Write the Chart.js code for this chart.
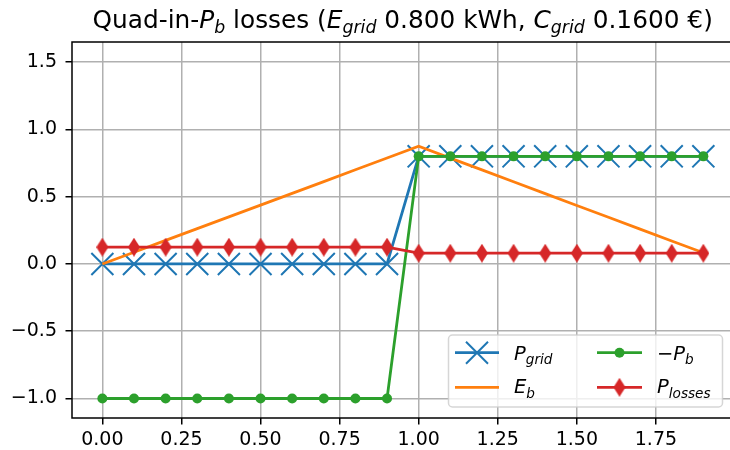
<!DOCTYPE html>
<html>
<head>
<meta charset="utf-8">
<script src="https://cdn.jsdelivr.net/npm/chart.js@4.4.0/dist/chart.umd.min.js"></script>
<style>
  html, body { margin: 0; padding: 0; background: #fff; overflow: hidden; }
  #wrap { width: 730px; height: 450px; overflow: hidden; }
</style>
</head>
<body>
<div id="wrap"><canvas id="chart" width="751" height="450"></canvas></div>
<script>
// time steps (h)
const t = [0.0, 0.1, 0.2, 0.3, 0.4, 0.5, 0.6, 0.7, 0.8, 0.9,
           1.0, 1.1, 1.2, 1.3, 1.4, 1.5, 1.6, 1.7, 1.8, 1.9];
const pGrid = [0, 0, 0, 0, 0, 0, 0, 0, 0, 0,
               0.8, 0.8, 0.8, 0.8, 0.8, 0.8, 0.8, 0.8, 0.8, 0.8];
const eB = [0, 0.0875, 0.175, 0.2625, 0.35, 0.4375, 0.525, 0.6125, 0.7, 0.7875,
            0.875, 0.787, 0.699, 0.611, 0.523, 0.435, 0.347, 0.259, 0.171, 0.083];
const negPb = [-1, -1, -1, -1, -1, -1, -1, -1, -1, -1,
               0.8, 0.8, 0.8, 0.8, 0.8, 0.8, 0.8, 0.8, 0.8, 0.8];
const pLosses = [0.125, 0.125, 0.125, 0.125, 0.125, 0.125, 0.125, 0.125, 0.125, 0.125,
                 0.08, 0.08, 0.08, 0.08, 0.08, 0.08, 0.08, 0.08, 0.08, 0.08];

const xTicks = [0, 0.25, 0.5, 0.75, 1.0, 1.25, 1.5, 1.75];
const xTickLabels = ["0.00", "0.25", "0.50", "0.75", "1.00", "1.25", "1.50", "1.75"];
const yTicks = [-1.0, -0.5, 0.0, 0.5, 1.0, 1.5];
const yTickLabels = ["\u22121.0", "\u22120.5", "0.0", "0.5", "1.0", "1.5"];

const BLUE = "#1f77b4", ORANGE = "#ff7f0e", GREEN = "#2ca02c", RED = "#d62728";
const FONT = '"DejaVu Sans", sans-serif';

const pts = (ys) => t.map((x, i) => ({ x: x, y: ys[i] }));

// thin diamond marker like matplotlib 'd'
function diamond(w, h, color) {
  const c = document.createElement("canvas");
  c.width = w; c.height = h;
  const g = c.getContext("2d");
  g.fillStyle = color;
  g.beginPath();
  g.moveTo(w / 2, 0); g.lineTo(w, h / 2); g.lineTo(w / 2, h); g.lineTo(0, h / 2);
  g.closePath();
  g.fill();
  return c;
}
const diamondImg = diamond(12, 19, RED);

// text with italic / subscript pieces (mathtext-ish)
function richWidth(ctx, segs, size) {
  let w = 0;
  segs.forEach(s => {
    ctx.font = (s.it ? "italic " : "") + (s.sub ? size * 0.7 : size) + "px " + FONT;
    w += ctx.measureText(s.t).width;
  });
  return w;
}
function drawRich(ctx, x, y, segs, size) {
  segs.forEach(s => {
    ctx.font = (s.it ? "italic " : "") + (s.sub ? size * 0.7 : size) + "px " + FONT;
    ctx.fillText(s.t, x, y + (s.sub ? size * 0.22 : 0));
    x += ctx.measureText(s.t).width;
  });
}

const titleSegs = [
  { t: "Quad-in-" }, { t: "P", it: 1 }, { t: "b", it: 1, sub: 1 },
  { t: " losses (" }, { t: "E", it: 1 }, { t: "grid", it: 1, sub: 1 },
  { t: " 0.800 kWh, " }, { t: "C", it: 1 }, { t: "grid", it: 1, sub: 1 },
  { t: " 0.1600 \u20ac)" }
];

const decor = {
  id: "decor",
  afterDatasetsDraw(chart) {
    const ctx = chart.ctx, a = chart.chartArea;
    ctx.save();
    // spines (the right one falls outside the 730px view)
    ctx.strokeStyle = "#000";
    ctx.lineWidth = 1.5;
    ctx.strokeRect(a.left, a.top, a.right - a.left, a.bottom - a.top);

    // title, centred over the axes box
    ctx.fillStyle = "#000";
    ctx.textBaseline = "alphabetic";
    const ts = 24.8;
    const tw = richWidth(ctx, titleSegs, ts);
    drawRich(ctx, (a.left + a.right) / 2 - tw / 2, 28, titleSegs, ts);

    // legend
    ctx.fillStyle = "rgba(255,255,255,0.8)";
    ctx.strokeStyle = "rgba(204,204,204,0.8)";
    ctx.lineWidth = 1.5;
    ctx.beginPath();
    ctx.roundRect(448.5, 335, 274, 72, 4);
    ctx.fill();
    ctx.stroke();

    const rows = [352.7, 387.3];
    const cols = [{ x0: 455, x1: 499, tx: 514 }, { x0: 597, x1: 642, tx: 657 }];
    const items = [
      { c: 0, r: 0, color: BLUE, mark: "x", segs: [{ t: "P", it: 1 }, { t: "grid", it: 1, sub: 1 }] },
      { c: 0, r: 1, color: ORANGE, mark: null, segs: [{ t: "E", it: 1 }, { t: "b", it: 1, sub: 1 }] },
      { c: 1, r: 0, color: GREEN, mark: "o", segs: [{ t: "\u2212P", it: 1 }, { t: "b", it: 1, sub: 1 }] },
      { c: 1, r: 1, color: RED, mark: "d", segs: [{ t: "P", it: 1 }, { t: "losses", it: 1, sub: 1 }] }
    ];
    items.forEach(it => {
      const col = cols[it.c], y = rows[it.r], cx = (col.x0 + col.x1) / 2;
      ctx.strokeStyle = it.color;
      ctx.lineWidth = 2.8;
      ctx.beginPath();
      ctx.moveTo(col.x0, y); ctx.lineTo(col.x1, y);
      ctx.stroke();
      if (it.mark === "x") {
        ctx.lineWidth = 2;
        const d = 11;
        ctx.beginPath();
        ctx.moveTo(cx - d, y - d); ctx.lineTo(cx + d, y + d);
        ctx.moveTo(cx - d, y + d); ctx.lineTo(cx + d, y - d);
        ctx.stroke();
      } else if (it.mark === "o") {
        ctx.fillStyle = it.color;
        ctx.beginPath();
        ctx.arc(cx, y, 5, 0, Math.PI * 2);
        ctx.fill();
      } else if (it.mark === "d") {
        ctx.drawImage(diamondImg, cx - 6, y - 9.5);
      }
      ctx.fillStyle = "#000";
      drawRich(ctx, col.tx, y + (it.r === 0 ? 7.5 : 6), it.segs, 19.5);
    });
    ctx.restore();
  }
};

new Chart(document.getElementById("chart"), {
  type: "line",
  data: {
    datasets: [
      {
        label: "P_grid", data: pts(pGrid), order: 3,
        borderColor: BLUE, borderWidth: 2.8,
        pointStyle: "crossRot", pointRadius: 15.6, pointBorderWidth: 2,
        pointBorderColor: BLUE, pointBackgroundColor: BLUE
      },
      {
        label: "E_b", data: pts(eB), order: 2,
        borderColor: ORANGE, borderWidth: 2.8, pointRadius: 0
      },
      {
        label: "-P_b", data: pts(negPb), order: 1,
        borderColor: GREEN, borderWidth: 2.8,
        pointStyle: "circle", pointRadius: 5, pointBorderWidth: 0,
        pointBackgroundColor: GREEN
      },
      {
        label: "P_losses", data: pts(pLosses), order: 0,
        borderColor: RED, borderWidth: 2.8,
        pointStyle: diamondImg, pointRadius: 8
      }
    ]
  },
  options: {
    responsive: false,
    animation: false,
    layout: { padding: { left: 0, right: 0, top: 42, bottom: 0 } },
    plugins: { legend: { display: false }, tooltip: { enabled: false }, title: { display: false } },
    scales: {
      x: {
        type: "linear", min: -0.096, max: 1.995,
        afterBuildTicks: (s) => { s.ticks = xTicks.map(v => ({ value: v })); },
        afterFit: (s) => { s.height = 32; },
        border: { display: false },
        grid: { color: "#b0b0b0", lineWidth: 1.5, tickColor: "#000", tickWidth: 1.5, tickLength: 6.5 },
        ticks: {
          autoSkip: false, maxRotation: 0, padding: 4, color: "#000",
          font: { family: "DejaVu Sans", size: 19 },
          callback: (v, i) => xTickLabels[i]
        }
      },
      y: {
        min: -1.145, max: 1.65,
        afterBuildTicks: (s) => { s.ticks = yTicks.map(v => ({ value: v })); },
        afterFit: (s) => { s.width = 72; },
        border: { display: false },
        grid: { color: "#b0b0b0", lineWidth: 1.5, tickColor: "#000", tickWidth: 1.5, tickLength: 6.5 },
        ticks: {
          autoSkip: false, padding: 8.5, color: "#000",
          font: { family: "DejaVu Sans", size: 19 },
          callback: (v, i) => yTickLabels[i]
        }
      }
    }
  },
  plugins: [decor]
});
</script>
</body>
</html>
